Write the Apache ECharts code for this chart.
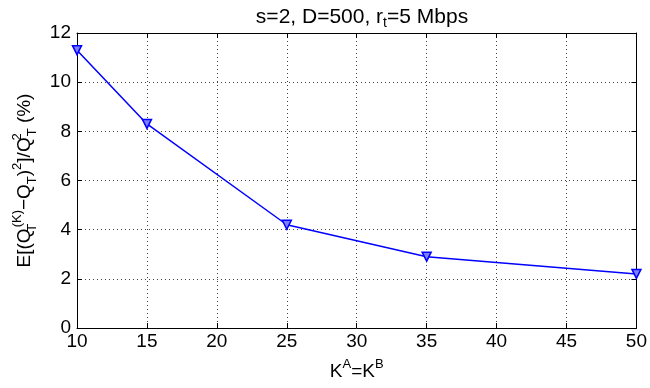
<!DOCTYPE html>
<html>
<head>
<meta charset="utf-8">
<script src="https://cdn.jsdelivr.net/npm/echarts@6/dist/echarts.min.js"></script>
<style>html,body{margin:0;padding:0;background:#fff;}#c{width:650px;height:388px;}</style>
</head>
<body>
<div id="c"></div>
<script>
const kValues = [10, 15, 25, 35, 50];
const errorPct = [11.3, 8.3, 4.2, 2.9, 2.2];
const xTicks = [10, 15, 20, 25, 30, 35, 40, 45, 50];
const yTicks = [0, 2, 4, 6, 8, 10, 12];

const FONT = 'Liberation Sans, Arial, Helvetica, sans-serif';
const chart = echarts.init(document.getElementById('c'), null, {renderer: 'canvas'});
const LH = 28;
const b = {fontFamily: FONT, fontSize: 19, color: '#000', lineHeight: LH};
const sup = {fontFamily: FONT, fontSize: 13, color: '#000', verticalAlign: 'top', lineHeight: LH};
const sub = {fontFamily: FONT, fontSize: 13, color: '#000', verticalAlign: 'bottom', lineHeight: LH};
const subZ = Object.assign({}, sub, {width: 1, align: 'left'});
const supZ = Object.assign({}, sup, {width: 1, align: 'left'});

chart.setOption({
  animation: false,
  backgroundColor: '#fff',
  title: {
    text: '{b|s=2, D=500, r}{s|t}{b|=5 Mbps}',
    left: 357, top: -1, textAlign: 'center',
    textStyle: {
      fontWeight: 'normal',
      rich: {
        b: {fontFamily: FONT, fontSize: 21, fontWeight: 'normal', color: '#000', lineHeight: 26},
        s: {fontFamily: FONT, fontSize: 14, fontWeight: 'normal', color: '#000', verticalAlign: 'bottom', lineHeight: 26}
      }
    }
  },
  grid: {left: 77, right: 12, top: 33, bottom: 60},
  xAxis: [{
    type: 'value', min: 10, max: 50, interval: 5,
    name: '{b|K}{p|A}{b|=K}{p|B}', nameLocation: 'middle', nameGap: 30,
    nameTextStyle: {rich: {b: b, p: sup}},
    axisLine: {show: true, lineStyle: {color: '#000', width: 1}},
    axisTick: {show: true, inside: true, length: 5, lineStyle: {color: '#000'}},
    axisLabel: {fontFamily: FONT, fontSize: 19, color: '#000', margin: 4,
      customValues: xTicks},
    splitLine: {show: true, lineStyle: {color: '#444', type: [1, 3], width: 1}}
  }, {
    type: 'value', min: 10, max: 50, interval: 5, position: 'top',
    axisLine: {show: true, onZero: false, lineStyle: {color: '#000', width: 1}},
    axisTick: {show: true, inside: true, length: 5, lineStyle: {color: '#000'}},
    axisLabel: {show: false}, splitLine: {show: false}
  }],
  yAxis: [{
    type: 'value', min: 0, max: 12, interval: 2,
    name: '{b|E[(Q}{sz|T}{p|(K)}{b|\u2212Q}{s|T}{b|)}{p|2}{b|]/Q}{pz|2}{s|T}{b| (%)}',
    nameLocation: 'middle', nameGap: 30, nameRotate: 90,
    nameTextStyle: {rich: {b: b, p: sup, s: sub, sz: subZ, pz: supZ}},
    axisLine: {show: true, lineStyle: {color: '#000', width: 1}},
    axisTick: {show: true, inside: true, length: 5, lineStyle: {color: '#000'}},
    axisLabel: {fontFamily: FONT, fontSize: 19, color: '#000', margin: 6},
    splitLine: {show: true, lineStyle: {color: '#444', type: [1, 3], width: 1}}
  }, {
    type: 'value', min: 0, max: 12, interval: 2, position: 'right',
    axisLine: {show: true, onZero: false, lineStyle: {color: '#000', width: 1}},
    axisTick: {show: true, inside: true, length: 5, lineStyle: {color: '#000'}},
    axisLabel: {show: false}, splitLine: {show: false}
  }],
  series: [{
    type: 'line',
    data: kValues.map((k, i) => [k, errorPct[i]]),
    symbol: 'triangle', symbolRotate: 180, symbolSize: 9,
    showAllSymbol: true,
    lineStyle: {color: '#0000ff', width: 1.5},
    itemStyle: {color: '#8080ff', borderColor: '#0000ff', borderWidth: 1.5},
    clip: false
  }]
});
</script>
</body>
</html>
